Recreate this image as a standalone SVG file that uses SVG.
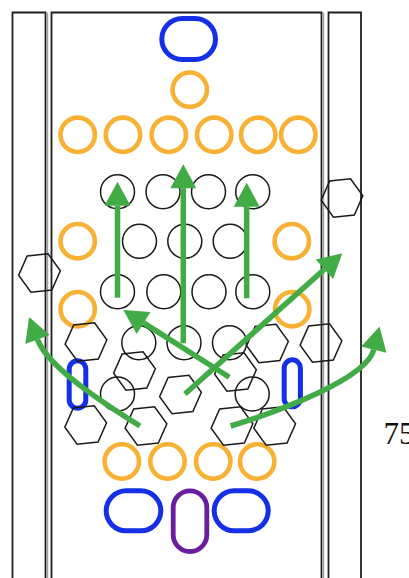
<svg xmlns="http://www.w3.org/2000/svg" xmlns:xlink="http://www.w3.org/1999/xlink" width="409" height="578" viewBox="0 0 409 578">
<defs>
<style>
.wall{fill:none;stroke:#1f1f1f;stroke-width:1.8}
.wall2{fill:none;stroke:#8a8a8a;stroke-width:1}
.org{fill:none;stroke:#f8b134;stroke-width:4.6}
.blu{fill:none;stroke:#1430e6;stroke-width:5}
.pur{fill:none;stroke:#6a1d9e;stroke-width:4.8}
.blk{fill:none;stroke:#1a1a1a;stroke-width:1.5}
.arr{fill:none;stroke:#41ab45;stroke-width:5.5;marker-end:url(#ah)}
.lbl{font-family:"Liberation Serif","Times New Roman",serif;font-size:31px;fill:#111}
</style>
<polygon id="hex" points="20.88,-2.19 12.34,16.99 -8.54,19.18 -20.88,2.19 -12.34,-16.99 8.54,-19.18"/>
<marker id="ah" markerUnits="userSpaceOnUse" markerWidth="26" markerHeight="28" refX="0" refY="0" viewBox="0 -14 26 28" orient="auto" overflow="visible">
<path d="M0,-13 L24,0 L0,13 z" fill="#41ab45"/>
</marker>
</defs>
<rect width="409" height="578" fill="#ffffff"/>
<g id="walls">
<path class="wall" d="M12.5,580 V12.5 H45.5 V580"/>
<path class="wall" d="M51.5,580 V12.5 H321.5 V580"/>
<path class="wall" d="M328.5,580 V12.5 H361 V580"/>
<line class="wall2" x1="47.7" y1="12.5" x2="47.7" y2="580"/>
<line class="wall2" x1="323.7" y1="12.5" x2="323.7" y2="580"/>
</g>
<g id="top-blue"><rect class="blu" x="161.8" y="18.5" width="53.7" height="41" rx="20.5"/></g>
<g id="o-top"><circle class="org" cx="189.8" cy="89.7" r="17.2"/></g>
<g id="o-row1">
<circle class="org" cx="77.7" cy="134.8" r="17.2"/>
<circle class="org" cx="123" cy="134.8" r="17.2"/>
<circle class="org" cx="168.8" cy="134.8" r="17.2"/>
<circle class="org" cx="214.2" cy="134.8" r="17.2"/>
<circle class="org" cx="258.2" cy="134.8" r="17.2"/>
<circle class="org" cx="298.3" cy="134.8" r="17.2"/>
</g>
<g id="o-side">
<circle class="org" cx="77.7" cy="241.2" r="17.2"/>
<circle class="org" cx="291.8" cy="241.2" r="17.2"/>
<circle class="org" cx="77.7" cy="309.2" r="17.2"/>
<circle class="org" cx="292.2" cy="309.2" r="17.2"/>
</g>
<g id="o-bottom">
<circle class="org" cx="121.8" cy="461.5" r="17.2"/>
<circle class="org" cx="167.5" cy="461.5" r="17.2"/>
<circle class="org" cx="213.2" cy="461.5" r="17.2"/>
<circle class="org" cx="257.2" cy="461.5" r="17.2"/>
</g>
<g id="side-blue-left"><rect class="blu" x="69.2" y="360.8" width="16.6" height="47.4" rx="8.3"/></g>
<g id="side-blue-right"><rect class="blu" x="284.2" y="359.8" width="16.2" height="47" rx="8.1"/></g>
<g id="bottom-blue-left"><rect class="blu" x="106.2" y="490.8" width="54.6" height="40" rx="20"/></g>
<g id="bottom-blue-right"><rect class="blu" x="214.2" y="490.8" width="54" height="40" rx="20"/></g>
<g id="bottom-purple"><rect class="pur" x="173.2" y="490.8" width="33.6" height="60.7" rx="16.8"/></g>
<g id="black-circles">
<circle class="blk" cx="117.5" cy="191.8" r="17"/>
<circle class="blk" cx="163" cy="191.8" r="17"/>
<circle class="blk" cx="208.5" cy="191.8" r="17"/>
<circle class="blk" cx="252.7" cy="191.8" r="17"/>
<circle class="blk" cx="139.5" cy="241.3" r="17"/>
<circle class="blk" cx="184.8" cy="241.3" r="17"/>
<circle class="blk" cx="230.2" cy="241.3" r="17"/>
<circle class="blk" cx="117.5" cy="291.8" r="17"/>
<circle class="blk" cx="163.8" cy="291.8" r="17"/>
<circle class="blk" cx="209" cy="291.8" r="17"/>
<circle class="blk" cx="252.8" cy="291.8" r="17"/>
<circle class="blk" cx="138.8" cy="342.7" r="17"/>
<circle class="blk" cx="184" cy="342.7" r="17"/>
<circle class="blk" cx="229.5" cy="342.7" r="17"/>
<circle class="blk" cx="117.5" cy="394" r="17"/>
<circle class="blk" cx="252.2" cy="394" r="17"/>
</g>
<g id="hexagons">
<use xlink:href="#hex" class="blk" transform="translate(342,198)"/>
<use xlink:href="#hex" class="blk" transform="translate(39.5,273)"/>
<use xlink:href="#hex" class="blk" transform="translate(86,342)"/>
<use xlink:href="#hex" class="blk" transform="translate(321,343)"/>
<use xlink:href="#hex" class="blk" transform="translate(267.5,343.5)"/>
<use xlink:href="#hex" class="blk" transform="translate(134.5,371)"/>
<use xlink:href="#hex" class="blk" transform="translate(180.5,394.5)"/>
<use xlink:href="#hex" class="blk" transform="translate(235.5,372)"/>
<use xlink:href="#hex" class="blk" transform="translate(85.7,425)"/>
<use xlink:href="#hex" class="blk" transform="translate(146,426)"/>
<use xlink:href="#hex" class="blk" transform="translate(232,426)"/>
<use xlink:href="#hex" class="blk" transform="translate(274.7,426)"/>
</g>
<g id="connectors">
<path class="arr" d="M117.5,297.7 V205.7"/>
<path class="arr" d="M183.3,343.3 V188.3"/>
<path class="arr" d="M246.7,298.3 V206.7"/>
<path class="arr" d="M229.3,377.3 L143.6,322.9"/>
<path class="arr" d="M185,394 L324.4,269.3"/>
<path class="arr" d="M140,426 C106,404.8 48,367.7 37.5,339.5"/>
<path class="arr" d="M230.7,426 C278.7,411.5 366.6,378.8 373.8,349.7"/>
</g>
<text class="lbl" x="383.5" y="444.3">75</text>
</svg>
